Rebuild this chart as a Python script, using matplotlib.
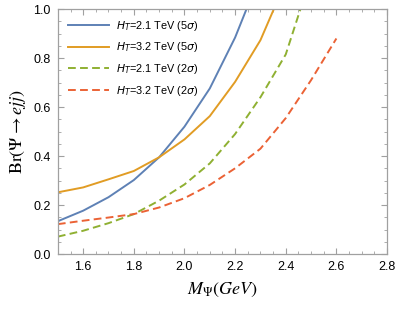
import numpy as np
import matplotlib
matplotlib.use('Agg')
import matplotlib.pyplot as plt
from matplotlib.ticker import MultipleLocator
from matplotlib.font_manager import FontProperties

# masses (GeV) and branching ratios
m_a = [1.5, 1.6, 1.7, 1.8, 1.9, 2.0, 2.1, 2.2, 2.245]
br_a = [0.134, 0.177, 0.232, 0.302, 0.395, 0.52, 0.676, 0.884, 1.0]

m_b = [1.5, 1.6, 1.7, 1.8, 1.9, 2.0, 2.1, 2.2, 2.3, 2.353]
br_b = [0.252, 0.272, 0.305, 0.339, 0.395, 0.468, 0.563, 0.703, 0.873, 1.0]

m_c = [1.5, 1.6, 1.7, 1.8, 1.9, 2.0, 2.1, 2.2, 2.3, 2.4, 2.458]
br_c = [0.071, 0.095, 0.126, 0.163, 0.218, 0.284, 0.37, 0.49, 0.64, 0.815, 1.0]

m_d = [1.5, 1.6, 1.7, 1.8, 1.9, 2.0, 2.1, 2.2, 2.3, 2.4, 2.5, 2.6]
br_d = [0.122, 0.136, 0.149, 0.163, 0.19, 0.228, 0.282, 0.35, 0.43, 0.555, 0.71, 0.88]

labels = [r'$H_T$=2.1 TeV (5$\sigma$)', r'$H_T$=3.2 TeV (5$\sigma$)',
          r'$H_T$=2.1 TeV (2$\sigma$)', r'$H_T$=3.2 TeV (2$\sigma$)']
colors = ['#5E81B5', '#E19C24', '#8FB032', '#EB6235']

plt.rcParams['font.family'] = ['Liberation Sans', 'DejaVu Sans']
plt.rcParams['mathtext.fontset'] = 'stix'

fig = plt.figure(figsize=(3.99, 3.14), dpi=100)
ax = fig.add_axes([0.145, 0.191, 0.825, 0.780])

ax.plot(m_a, br_a, color=colors[0], lw=1.4, label=labels[0])
ax.plot(m_b, br_b, color=colors[1], lw=1.4, label=labels[1])
ax.plot(m_c, br_c, color=colors[2], lw=1.4, dashes=(4, 2.2), label=labels[2])
ax.plot(m_d, br_d, color=colors[3], lw=1.4, dashes=(4, 2.2), label=labels[3])

ax.set_xlim(1.5, 2.8)
ax.set_ylim(0.0, 1.0)
ax.xaxis.set_minor_locator(MultipleLocator(0.05))
ax.yaxis.set_minor_locator(MultipleLocator(0.05))
ax.set_xticks([1.6, 1.8, 2.0, 2.2, 2.4, 2.6, 2.8])
ax.set_xticklabels(['1.6', '1.8', '2.0', '2.2', '2.4', '2.6', '2.8'])
ax.set_yticks([0.0, 0.2, 0.4, 0.6, 0.8, 1.0])
ax.set_yticklabels(['0.0', '0.2', '0.4', '0.6', '0.8', '1.0'])

for s in ax.spines.values():
    s.set_color('#a0a0a0')
    s.set_linewidth(0.9)
ax.tick_params(which='both', direction='in', top=True, right=True,
               color='#a0a0a0', labelsize=9, labelcolor='black')
ax.tick_params(which='major', length=4, width=0.8, pad=5)
ax.tick_params(which='minor', length=2.2, width=0.6)

ax.set_xlabel(r'$M_\Psi(GeV)$', fontsize=13, labelpad=6)
ax.set_ylabel(r'$\mathrm{Br}(\Psi\rightarrow ejj)$', fontsize=13, labelpad=4)

prop = FontProperties(family=['Liberation Sans', 'DejaVu Sans'], size=7.8,
                      math_fontfamily='dejavusans')
ax.legend(loc='upper left', prop=prop, frameon=False, handlelength=3.8,
          handletextpad=0.7, labelspacing=0.7, borderaxespad=0.5,
          bbox_to_anchor=(0.0, 1.0))

fig.savefig('out.png', dpi=100)
